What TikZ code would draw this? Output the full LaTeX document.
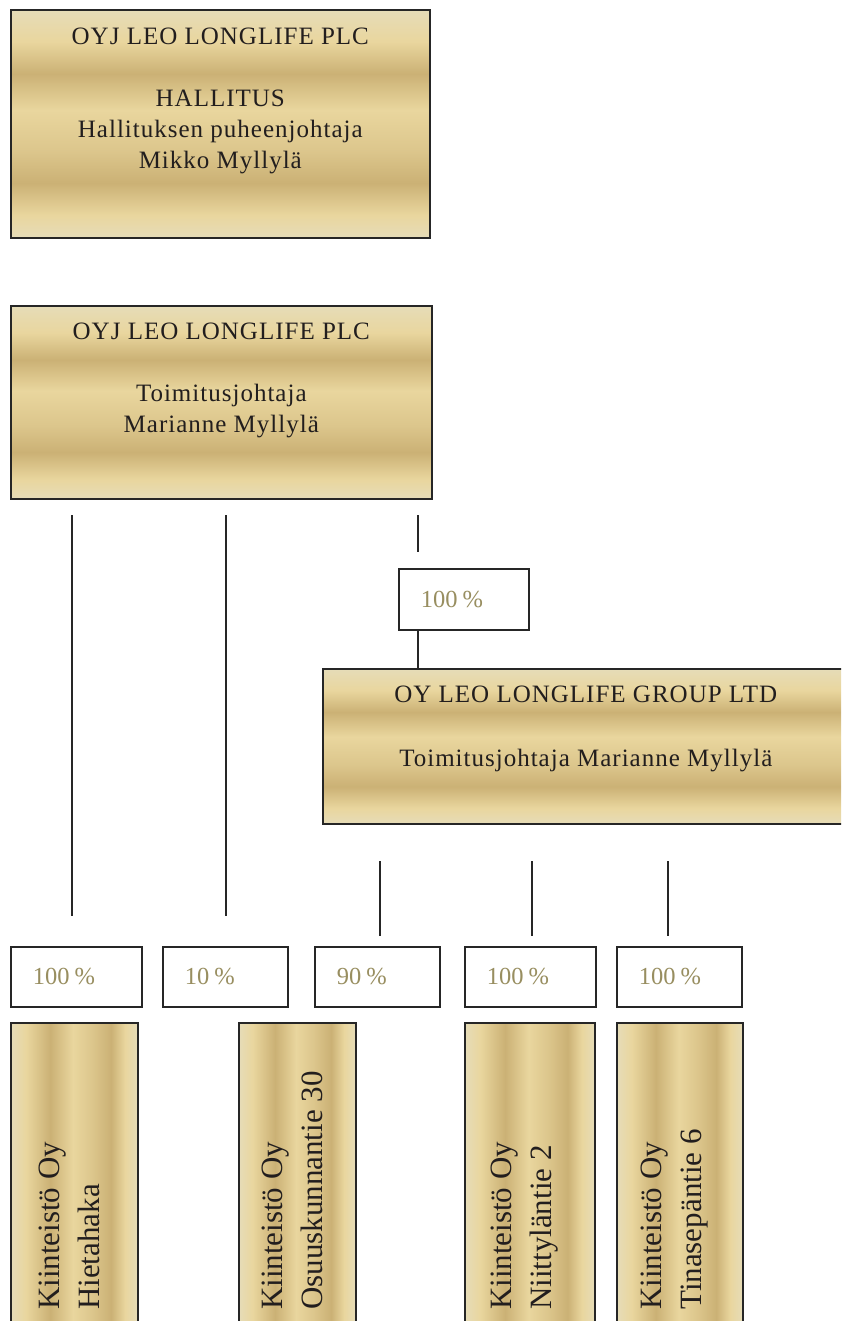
\documentclass[tikz,border=0pt]{standalone}
\usepackage{fontspec}
\setmainfont{Liberation Serif}
\newfontfamily\platefont[LetterSpace=4]{Liberation Serif}
\usetikzlibrary{positioning}

\definecolor{goldpale}{RGB}{230,220,184}
\definecolor{goldlight}{RGB}{233,214,158}
\definecolor{golddark}{RGB}{203,177,117}
\definecolor{goldmid}{RGB}{220,198,140}
\definecolor{frame}{RGB}{38,38,38}
\definecolor{textdark}{RGB}{34,30,30}
\definecolor{pcttext}{RGB}{152,142,96}

% gold plates: stripes across (rows) or along (columns), path fills 25bp..75bp
\pgfdeclareverticalshading{goldrows}{100bp}{color(0bp)=(goldpale); color(25bp)=(goldpale); color(30bp)=(goldlight); color(37bp)=(golddark); color(44bp)=(goldmid); color(53bp)=(goldlight); color(61bp)=(golddark); color(68bp)=(goldlight); color(75bp)=(goldpale); color(100bp)=(goldpale)}
\pgfdeclarehorizontalshading{goldcols}{100bp}{color(0bp)=(goldpale); color(25bp)=(goldpale); color(31bp)=(goldlight); color(40.5bp)=(golddark); color(49.5bp)=(goldlight); color(57bp)=(goldmid); color(64.5bp)=(golddark); color(70bp)=(goldlight); color(75bp)=(goldpale); color(100bp)=(goldpale)}

\tikzset{
	goldbox/.style={draw=frame, line width=1.6pt, shade, shading=goldrows, anchor=north west, inner sep=0pt},
	goldcol/.style={draw=frame, line width=1.6pt, shade, shading=goldcols, anchor=north west, inner sep=0pt},
	boxtext/.style={align=center, inner sep=0pt, text=textdark, font=\platefont\fontsize{25}{31}\selectfont},
	coltext/.style={align=left, rotate=90, anchor=west, inner sep=0pt, text=textdark, font=\fontsize{31}{40}\selectfont},
	pctbox/.style={draw=frame, line width=1.8pt, fill=white, anchor=north west, minimum height=60pt, inner xsep=22pt, inner ysep=0pt, align=left, text=pcttext, font=\fontsize{24.5}{30}\selectfont},
	link/.style={draw=frame, line width=1.8pt}
}

\begin{document}
\begin{tikzpicture}[x=1pt,y=-1pt]
	\useasboundingbox (0,0) rectangle (841,1321);
	\clip (0,0) rectangle (841,1321);
	% emoyhtio
	\node[goldbox, minimum width=419pt, minimum height=228pt] (board) at (10,9) {};
	\node[boxtext, below=19pt of board.north] (board-txt) {OYJ LEO LONGLIFE PLC\\[31pt]HALLITUS\\Hallituksen puheenjohtaja\\Mikko Myllylä};
	\node[goldbox, minimum width=421pt, minimum height=193pt] (ceo) at (10,305) {};
	\node[boxtext, below=17.5pt of ceo.north] (ceo-txt) {OYJ LEO LONGLIFE PLC\\[31pt]Toimitusjohtaja\\Marianne Myllylä};
	% tytaryhtio
	\coordinate (tap) at (418,552);
	\draw[link] (418,515) -- (tap);
	\node[pctbox, text width=86pt, minimum height=61pt] (grp-pct) at (398,568) {100\hspace{0.2em}\%};
	\node[goldbox, minimum width=526pt, minimum height=155pt] (grp) at (322,668) {};
	\node[boxtext, below=17.5pt of grp.north] (grp-txt) {OY LEO LONGLIFE GROUP LTD\\[33pt]Toimitusjohtaja Marianne Myllylä};
	\draw[link] (tap |- grp-pct.south) -- (tap |- grp.north);
	% omistusosuudet
	\foreach \x/\w/\pct/\n in {10/87/100/pa, 162/81/10/pb, 314/81/90/pc, 464/87/100/pd, 616/81/100/pe}
	\node[pctbox, text width=\w pt] (\n) at (\x,946) {\pct\hspace{0.2em}\%};
	\foreach \x [count=\i] in {72,226}
	{
		\coordinate (ceo-out\i) at (\x,515);
		\coordinate (ceo-end\i) at (\x,916);
		\draw[link] (ceo-out\i) -- (ceo-end\i);
	}
	\foreach \x [count=\i] in {380,532,668}
	{
		\coordinate (grp-out\i) at (\x,861);
		\coordinate (grp-end\i) at (\x,936);
		\draw[link] (grp-out\i) -- (grp-end\i);
	}
	% kiinteistoyhtiot
	\foreach \x/\w/\n/\txt in {10/127/ka/{Kiinteistö Oy\\Hietahaka}, 238/117/kb/{Kiinteistö Oy\\Osuuskunnantie 30}, 464/130/kd/{Kiinteistö Oy\\Niittyläntie 2}, 616/126/ke/{Kiinteistö Oy\\Tinasepäntie 6}}
	{
		\node[goldcol, minimum width=\w pt, minimum height=330pt] (\n) at (\x,1022) {};
		\node[coltext] (\n-txt) at (\x+\w/2-4,1310) {\txt};
	}
\end{tikzpicture}
\end{document}
